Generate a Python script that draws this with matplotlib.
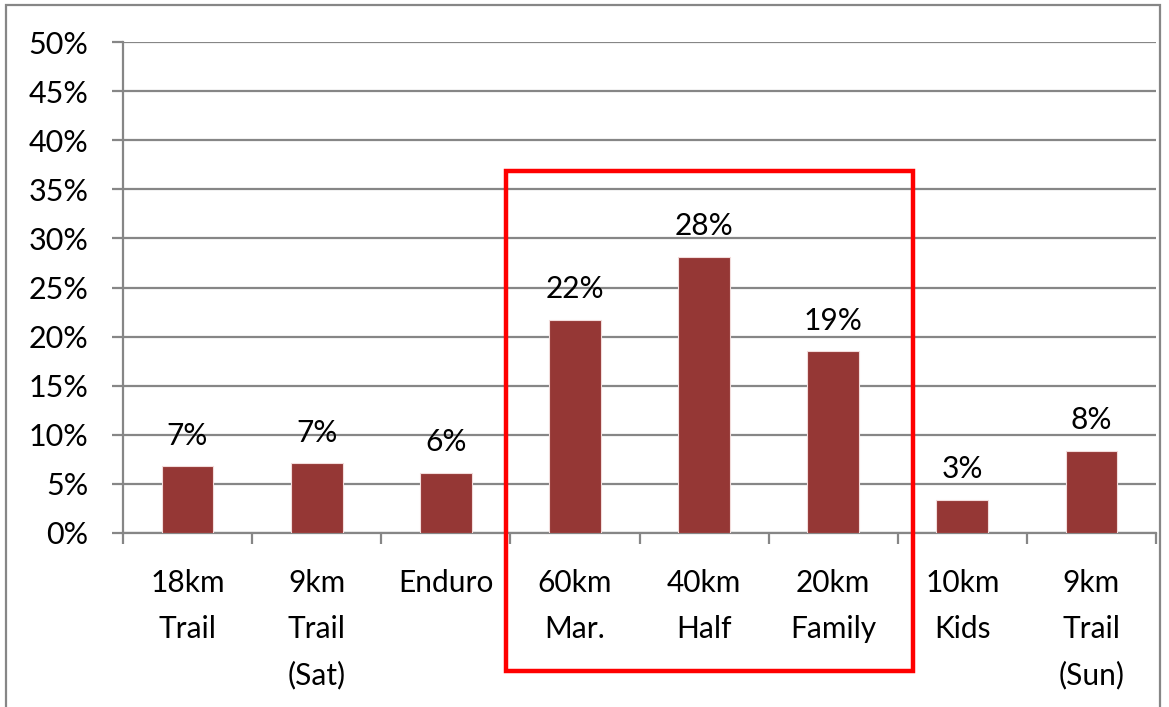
import matplotlib
matplotlib.use("Agg")
import matplotlib.pyplot as plt
from matplotlib.patches import Rectangle
from matplotlib.ticker import FixedLocator, PercentFormatter
import numpy as np

# data
categories = ["18km\nTrail", "9km\nTrail\n(Sat)", "Enduro", "60km\nMar.",
              "40km\nHalf", "20km\nFamily", "10km\nKids", "9km\nTrail\n(Sun)"]
shares = [6.8, 7.1, 6.1, 21.7, 28.1, 18.5, 3.4, 8.4]
share_labels = ["7%", "7%", "6%", "22%", "28%", "19%", "3%", "8%"]
y_ticks = [0, 5, 10, 15, 20, 25, 30, 35, 40, 45, 50]

plt.rcParams["font.family"] = ["Lato", "DejaVu Sans"]
W, H = 1169, 707
fig = plt.figure(figsize=(W / 100, H / 100), dpi=100)
ax = fig.add_axes([123 / W, 1 - 533 / H, (1156 - 123) / W, (533 - 42) / H])

grey = "#868686"
x = np.arange(len(categories))
ax.bar(x, shares, width=0.4, color="#953735", edgecolor="#f2dcdb",
       linewidth=0.8, zorder=3)
for xi, v, lab in zip(x, shares, share_labels):
    ax.annotate(lab, (xi, v), xytext=(0, 12), textcoords="offset points",
                ha="center", va="bottom", fontsize=21.5)

ax.set_xlim(-0.5, len(categories) - 0.5)
ax.set_ylim(0, 50)
ax.set_yticks(y_ticks)
ax.yaxis.set_major_formatter(PercentFormatter(decimals=0))
ax.grid(axis="y", color=grey, linewidth=1.6, zorder=0)
ax.set_xticks(x)
ax.set_xticklabels(categories, fontsize=21.5, linespacing=1.76)
ax.xaxis.set_minor_locator(FixedLocator(np.arange(-0.5, len(categories), 1)))
ax.tick_params(axis="x", which="major", length=0, pad=26)
ax.tick_params(axis="x", which="minor", length=8, width=1.6, color=grey)
ax.tick_params(axis="y", length=8, width=1.6, color=grey, labelsize=22, pad=17)
for s in ["top", "right"]:
    ax.spines[s].set_visible(False)
for s in ["left", "bottom"]:
    ax.spines[s].set_color(grey)
    ax.spines[s].set_linewidth(1.6)

# outer chart border and highlight box
fig.patches.append(Rectangle((6 / W, -0.05), (1160 - 6) / W, 1.05 - 5 / H,
                             transform=fig.transFigure, fill=False,
                             edgecolor=grey, linewidth=1.6))
fig.patches.append(Rectangle((506 / W, 1 - 671 / H), (913 - 506) / W,
                             (671 - 171) / H, transform=fig.transFigure,
                             fill=False, edgecolor="#ff0000", linewidth=3.2,
                             zorder=5))

fig.savefig("out.png", dpi=100)
